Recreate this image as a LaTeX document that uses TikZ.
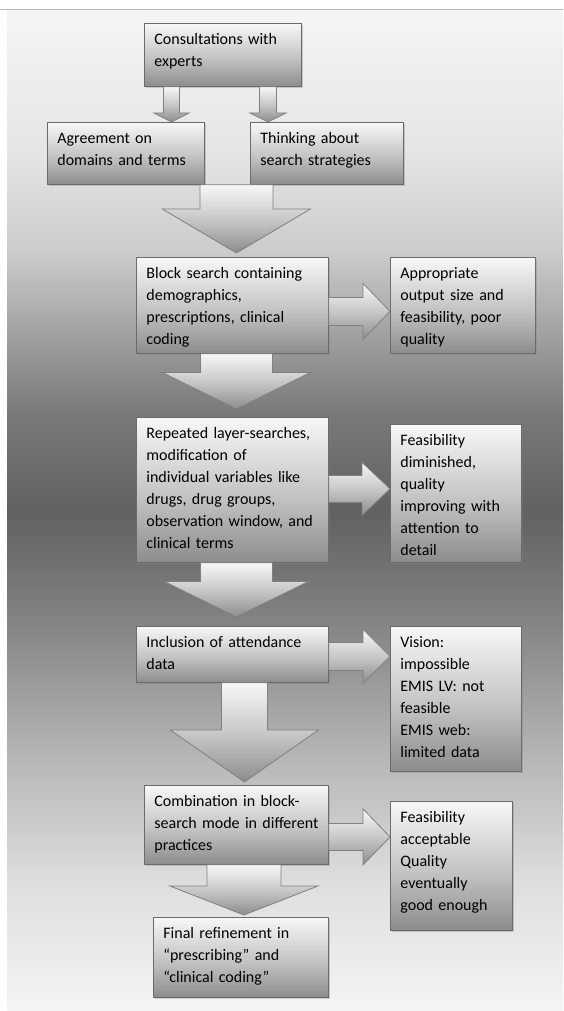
\documentclass[tikz,border=0pt]{standalone}
\usepackage{fontspec}
\setmainfont{Carlito}
\usepackage{tikz}
\usetikzlibrary{calc, shadows}

\definecolor{boxline}{gray}{0.42}
\definecolor{arrowline}{gray}{0.50}
\definecolor{topline}{gray}{0.74}
\definecolor{pA}{gray}{0.96}
\definecolor{pB}{gray}{0.87}
\definecolor{pC}{gray}{0.72}
\definecolor{pD}{gray}{0.50}
\definecolor{pE}{gray}{0.38}
\definecolor{pF}{gray}{0.48}
\definecolor{pG}{gray}{0.80}
\definecolor{pH}{gray}{0.90}
\definecolor{bxA}{gray}{0.55}
\definecolor{bxB}{gray}{0.76}
\definecolor{bxC}{gray}{0.97}

\pgfdeclareverticalshading{panelshade}{100bp}{color(0bp)=(pA); color(25bp)=(pA);
  color(31.5bp)=(pB); color(37.5bp)=(pC); color(45bp)=(pD); color(50bp)=(pE);
  color(55bp)=(pF); color(63bp)=(pG); color(68bp)=(pH); color(75bp)=(pA); color(100bp)=(pA)}
\pgfdeclareverticalshading{boxshade}{100bp}{color(0bp)=(bxA); color(25bp)=(bxA);
  color(47bp)=(bxB); color(75bp)=(bxC); color(100bp)=(bxC)}

\tikzset{
  flowbox/.style={anchor=north west, draw=boxline, line width=0.8pt, shading=boxshade,
    drop shadow={shadow xshift=2pt, shadow yshift=-2pt, opacity=0.35},
    align=left, inner xsep=10pt, inner ysep=10pt, text height=11pt,
    font=\fontsize{16}{22}\selectfont},
  blockarrow/.style={draw=arrowline, line width=0.8pt, shade, shading=boxshade}
}

\newcommand{\blockdown}[5]{%
  \path[blockarrow] let \p1=(#1), \p2=(#2) in
    (\x2-#3pt,\y1) -- (\x2-#3pt,\y2+#5pt) -- (\x2-#4pt,\y2+#5pt) -- (\x2,\y2)
    -- (\x2+#4pt,\y2+#5pt) -- (\x2+#3pt,\y2+#5pt) -- (\x2+#3pt,\y1) -- cycle;}
\newcommand{\blockright}[5]{%
  \path[blockarrow] let \p1=(#1), \p2=(#2) in
    (\x1,\y2+#3pt) -- (\x2-#5pt,\y2+#3pt) -- (\x2-#5pt,\y2+#4pt) -- (\x2,\y2)
    -- (\x2-#5pt,\y2-#4pt) -- (\x2-#5pt,\y2-#3pt) -- (\x1,\y2-#3pt) -- cycle;}

\begin{document}
\begin{tikzpicture}[x=1pt, y=-1pt]
\useasboundingbox (0,0) rectangle (563,1011);
\shade[shading=panelshade] (7,10) rectangle (563,1011);
\draw[topline, line width=1pt] (0,9.5) -- (563,9.5);

\begin{scope}[every node/.style={flowbox}]
  \node[text width=137pt, text depth=32pt] (cons) at (144,23) {Consultations with\\experts};
  \node[text width=137pt, text depth=31pt] (agree) at (47,122) {Agreement on\\domains and terms};
  \node[text width=133pt, text depth=31pt] (think) at (250,122) {Thinking about\\search strategies};
  \node[text width=172pt, text depth=65pt] (block) at (136,257) {Block search containing\\demographics,\\prescriptions, clinical\\coding};
  \node[text width=125pt, text depth=65pt] (approp) at (390,257) {Appropriate\\output size and\\feasibility, poor\\quality};
  \node[text width=172pt, text depth=114pt] (repeat) at (136,417) {Repeated layer-searches,\\modification of\\individual variables like\\drugs, drug groups,\\observation window, and\\clinical terms};
  \node[text width=111pt, text depth=107pt] (dimin) at (390,424) {Feasibility\\diminished,\\quality\\improving with\\attention to\\detail};
  \node[text width=172pt, text depth=25pt] (incl) at (136,626) {Inclusion of attendance\\data};
  \node[text width=111pt, text depth=114pt] (vision) at (390,626) {Vision:\\impossible\\EMIS LV: not\\feasible\\EMIS web:\\limited data};
  \node[text width=164pt, text depth=48pt] (combo) at (144,785) {Combination in block-\\search mode in different\\practices};
  \node[text width=102pt, text depth=98pt] (accept) at (390,801) {Feasibility\\acceptable\\Quality\\eventually\\good enough};
  \node[text width=155pt, text depth=49pt] (final) at (153,917) {Final refinement in\\“prescribing” and\\“clinical coding”};
\end{scope}

\blockdown{cons.south}{$(agree.north west)+(124.5,0)$}{8}{17.5}{9}
\blockdown{cons.south}{$(think.north west)+(18,0)$}{8.5}{18}{9}
\blockdown{agree.south}{$(block.north)+(4,-4)$}{36.5}{74}{44}
\blockdown{block.south}{$(repeat.north)+(4,-8)$}{36}{74}{36.5}
\blockdown{repeat.south}{$(incl.north)+(4,-9)$}{36}{72}{35.5}
\blockdown{incl.south}{$(combo.north)+(8,-3)$}{23}{74}{52}
\blockdown{combo.south}{$(final.north)+(3,-2)$}{37}{74}{29}

\blockright{block.east}{$(approp.west)+(0,6)$}{14}{28}{27}
\blockright{repeat.east}{$(dimin.west)+(0,-4.5)$}{13.5}{26.5}{28}
\blockright{incl.east}{$(incl.east -| vision.west)+(0,2)$}{14}{27}{27}
\blockright{combo.east}{$(combo.east -| accept.west)+(0,12)$}{13.5}{28}{27}
\end{tikzpicture}
\end{document}
